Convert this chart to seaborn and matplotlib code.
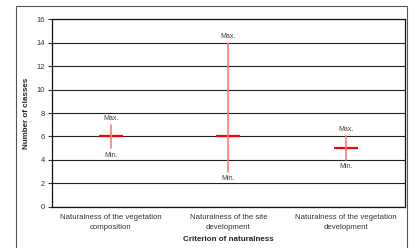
import numpy as np
import pandas as pd
import matplotlib
matplotlib.use("Agg")
import matplotlib.pyplot as plt
import seaborn as sns
from matplotlib.patches import Rectangle

sns.set_style("white")
plt.rcParams['font.family'] = ['Liberation Sans', 'DejaVu Sans']

# data ______________________________________________
criteria = ["Naturalness of the vegetation\ncomposition",
            "Naturalness of the site\ndevelopment",
            "Naturalness of the vegetation\ndevelopment"]
class_min = [5, 3, 4]
class_mid = [6, 6, 5]
class_max = [7, 14, 6]
yticks = [0, 2, 4, 6, 8, 10, 12, 14, 16]

# long form: min / middle / max per criterion, median gives the middle mark
df = pd.DataFrame({
    "criterion": np.repeat(criteria, 3),
    "classes": [v for trio in zip(class_min, class_mid, class_max) for v in trio],
})

fig = plt.figure(figsize=(4.12, 2.48), dpi=100)
ax = fig.add_axes([52 / 412, 1 - 206.7 / 248, (405 - 52) / 412, (206.7 - 19.3) / 248])

sns.pointplot(data=df, x="criterion", y="classes", order=criteria,
              estimator="median", errorbar=lambda v: (v.min(), v.max()),
              color="red", marker="_", linestyle="none", markersize=17,
              markeredgewidth=1.6,
              err_kws={"color": "#ff7a7a", "linewidth": 1.2}, ax=ax)

for i in range(len(criteria)):
    ax.text(i, class_max[i] + 0.25, "Max.", ha="center", va="bottom",
            fontsize=5, color="#444444")
    ax.text(i, class_min[i] - 0.3, "Min.", ha="center", va="top",
            fontsize=5, color="#444444")

ax.set_ylim(0, 16)
ax.set_xlim(-0.5, 2.5)
ax.set_yticks(yticks)
ax.yaxis.grid(True, color="#222222", linewidth=0.8)
ax.set_axisbelow(True)

ax.tick_params(axis="y", labelsize=5.4, colors="#333333", length=3, width=0.8,
               direction="out", left=True, pad=2)
ax.tick_params(axis="x", which="major", labelsize=5.6, labelcolor="#333333",
               length=0, pad=5.5)
for lab in ax.get_xticklabels():
    lab.set_linespacing(1.5)
ax.set_xticks([-0.5, 0.5, 1.5, 2.5], minor=True)
ax.tick_params(axis="x", which="minor", direction="inout", length=4, width=0.8,
               color="#222222")

for s in ["left", "bottom", "right", "top"]:
    ax.spines[s].set_visible(True)
    ax.spines[s].set_color("#111111")
    ax.spines[s].set_linewidth(0.9)

ax.set_xlabel("Criterion of naturalness", fontsize=5.8, fontweight="bold",
              labelpad=4)
ax.set_ylabel("Number of classes", fontsize=5.8, fontweight="bold", labelpad=5)

fig.patches.append(Rectangle((16 / 412, -0.05), (406.5 - 16) / 412, 1.05 - 6 / 248,
                             transform=fig.transFigure, fill=False,
                             edgecolor="#555555", linewidth=0.8))

fig.savefig("out.png", dpi=100)
